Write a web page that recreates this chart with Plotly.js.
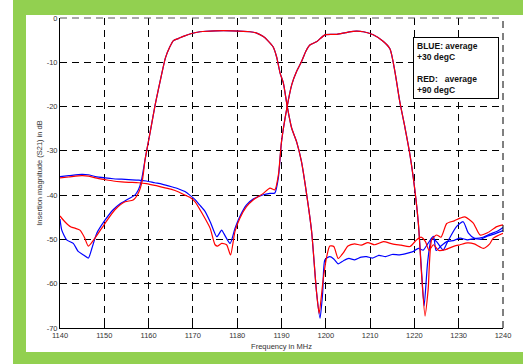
<!DOCTYPE html>
<html>
<head>
<meta charset="utf-8">
<script src="https://cdn.plot.ly/plotly-3.0.1.min.js"></script>
<style>html,body{margin:0;padding:0;background:#fff;}#chart{width:523px;height:364px;}</style>
</head>
<body>
<div id="chart"></div>
<script>
// Filter 1 (lower band), +30 degC (blue)
const f1BlueFreq = [1140, 1140.4, 1141.5, 1143, 1144.1, 1145.3, 1146.4, 1147.2, 1148.3, 1150.2, 1152, 1153.5, 1155, 1156.9, 1157.7, 1158.4, 1159.2, 1159.6, 1160.5, 1161.5, 1162.9, 1163.8, 1164.8, 1165.6, 1166.8, 1168, 1169.7, 1171.6, 1175, 1179, 1182.9, 1184.4, 1185.9, 1186.9, 1188.1, 1188.9, 1189.7, 1190.4, 1191.3, 1192.3, 1193.4, 1194.5, 1195.7, 1196.8, 1197.9, 1198.7, 1199.3, 1199.8, 1200.9, 1201.8, 1202.8, 1204, 1205.2, 1206.5, 1208, 1209.2, 1210.5, 1212, 1213.5, 1215, 1216.7, 1218.5, 1219.8, 1220.9, 1222, 1223, 1224.3, 1224.9, 1226, 1227.3, 1229, 1230.3, 1232, 1233.5, 1235, 1236.3, 1238, 1240];
const f1BlueVal  = [-45.4, -47.9, -50.1, -50.9, -52.7, -53.5, -54.2, -52, -48.6, -45.6, -43.3, -42, -41.1, -40, -38.8, -36.6, -32, -29.8, -25, -19.5, -12.9, -9, -6.5, -5.1, -4.6, -4.1, -3.5, -3.1, -2.9, -2.9, -3.1, -3.4, -4.2, -5.1, -6.5, -8.8, -12.5, -14.6, -20, -24.9, -27.9, -32.4, -40, -48.2, -61.8, -67.8, -62, -54.6, -53.9, -54.4, -55.5, -54.8, -54.3, -54.6, -54, -53.9, -54.2, -53.6, -53.9, -53.4, -53.5, -53.1, -52.7, -52, -52.4, -51, -49.3, -52.5, -51.5, -50.5, -50.2, -49.7, -50.1, -49.8, -50, -49.3, -48.8, -48];
// Filter 2 (upper band), +30 degC (blue)
const f2BlueFreq = [1140, 1142, 1144.9, 1146.4, 1148, 1150.2, 1152, 1153.9, 1155.5, 1157.7, 1159.5, 1161.4, 1163, 1165.2, 1166.8, 1168.2, 1169.3, 1170.5, 1171.5, 1172.7, 1173.9, 1175.4, 1176.5, 1177, 1178.4, 1179.5, 1180.6, 1182.1, 1183.6, 1185.9, 1187.4, 1188.5, 1189.3, 1190, 1191.2, 1192.3, 1193.4, 1194.5, 1195.5, 1196.4, 1198, 1199.8, 1202.5, 1204.5, 1206.2, 1208.5, 1210.7, 1213, 1214.5, 1215.6, 1216.7, 1217.9, 1219, 1220.1, 1220.9, 1221.6, 1222.2, 1223, 1223.9, 1225, 1226.5, 1227.5, 1229.5, 1231, 1232.2, 1233.5, 1235.5, 1237, 1238.6, 1240];
const f2BlueVal  = [-35.8, -35.6, -35.3, -35.4, -35.8, -36.1, -36.3, -36.4, -36.5, -36.6, -36.8, -37.2, -37.5, -38.1, -38.6, -39.2, -40, -41, -42.2, -43.6, -46, -49.4, -47.9, -48.7, -50.9, -47.5, -44.8, -42.2, -40.9, -39.9, -39.6, -39.5, -36, -28, -20.4, -15.1, -12.1, -9.9, -7.5, -6.1, -5.3, -3.8, -3.7, -3.3, -3.0, -3.1, -3.8, -5.3, -7, -12.1, -18.9, -24.9, -30.9, -38.8, -46.4, -57, -65, -55, -49.7, -50.5, -52.4, -50.5, -47.1, -46, -48.6, -49.7, -49.5, -48.8, -48.2, -47.3];
// Filter 1 (lower band), +90 degC (red)
const f1RedFreq = [1140, 1141.1, 1142.5, 1143.5, 1144.5, 1145.5, 1146.4, 1147.9, 1150.2, 1152.4, 1154.7, 1156.5, 1157.7, 1158.6, 1159.2, 1159.6, 1160.5, 1161.5, 1162.9, 1163.8, 1164.8, 1165.6, 1166.8, 1168, 1169.7, 1171.6, 1175, 1179, 1182.9, 1184.4, 1185.9, 1186.9, 1188.1, 1188.9, 1189.7, 1190.4, 1191.3, 1192.3, 1193.4, 1194.5, 1195.7, 1196.8, 1197.9, 1198.5, 1199.4, 1200.2, 1200.9, 1201.8, 1202.8, 1203.9, 1205, 1206.5, 1208, 1209.5, 1211, 1213, 1215, 1217, 1219, 1220.5, 1221.5, 1222.5, 1223.3, 1224.3, 1225.5, 1227, 1229, 1230.3, 1232, 1233.5, 1235.6, 1237, 1237.8, 1240];
const f1RedVal  = [-44.7, -46, -47.2, -47.5, -47.9, -49.5, -51.5, -49.7, -46.3, -43.3, -41.5, -41.1, -39.5, -36.6, -32, -29.8, -25, -19.5, -12.9, -9, -6.5, -5.1, -4.6, -4.1, -3.5, -3.1, -2.9, -2.9, -3.1, -3.4, -4.2, -5.1, -6.5, -8.8, -12.5, -14.6, -20, -24.9, -27.9, -32.4, -40, -48.2, -61.8, -66.7, -59.1, -53.9, -51.5, -51.6, -54.3, -53.1, -51.5, -51, -51.3, -50.7, -51.2, -50.5, -51, -51.3, -51.6, -50.1, -49.5, -50.5, -52.5, -51.2, -52.5, -52.3, -51.5, -51.2, -50.8, -51, -52, -51, -49.7, -48.6];
// Filter 2 (upper band), +90 degC (red)
const f2RedFreq = [1140, 1142, 1144.9, 1146.4, 1148, 1150.2, 1152, 1153.9, 1155.5, 1157.7, 1159.5, 1161.4, 1163, 1165.2, 1166.8, 1168.2, 1169.3, 1170.5, 1172.3, 1173.9, 1175, 1175.6, 1176.5, 1177.6, 1178.5, 1179.5, 1180.6, 1182.1, 1183.6, 1185.9, 1187.4, 1188.5, 1189.3, 1190, 1191.2, 1192.3, 1193.4, 1194.5, 1195.5, 1196.4, 1198, 1199.8, 1202.5, 1204.5, 1206.2, 1208.5, 1210.7, 1213, 1214.5, 1215.6, 1216.7, 1217.9, 1219, 1220.1, 1220.9, 1221.6, 1222.4, 1223.1, 1223.9, 1225, 1226, 1227.3, 1229, 1230.3, 1231.4, 1233.3, 1234.8, 1236.5, 1238.6, 1240];
const f2RedVal  = [-36.1, -35.9, -35.6, -35.7, -36.1, -36.5, -36.8, -37, -37.1, -37.2, -37.4, -37.8, -38.2, -38.7, -39.3, -40, -40.5, -41.5, -44.5, -47.5, -51.2, -51.5, -50.9, -51.2, -53.5, -48.2, -45.2, -42.6, -41.1, -39.6, -38.4, -38.8, -35.4, -27.9, -20.4, -15.1, -12.1, -9.9, -7.5, -6.1, -5.3, -3.8, -3.7, -3.3, -3.0, -3.1, -3.8, -5.3, -7, -12.1, -18.9, -24.9, -30.9, -38.8, -46.4, -57.6, -67.3, -61.4, -50.1, -49, -49.5, -46.4, -45.8, -45.2, -44.9, -46.3, -49, -48.5, -47.1, -46.7];

const xTicks = [1140, 1150, 1160, 1170, 1180, 1190, 1200, 1210, 1220, 1230, 1240];
const yTicks = [0, -10, -20, -30, -40, -50, -60, -70];
const legendLines = ["BLUE: average", "+30 degC", "", "RED:   average", "+90 degC"];

const BLUE = '#0000ff', RED = '#ff0000';
const traces = [
  {x: f1BlueFreq, y: f1BlueVal, mode: 'lines', line: {color: BLUE, width: 1.2, shape: 'spline', smoothing: 0.6}},
  {x: f2BlueFreq, y: f2BlueVal, mode: 'lines', line: {color: BLUE, width: 1.2, shape: 'spline', smoothing: 0.6}},
  {x: f1RedFreq, y: f1RedVal, mode: 'lines', line: {color: RED, width: 1.2, shape: 'spline', smoothing: 0.6}},
  {x: f2RedFreq, y: f2RedVal, mode: 'lines', line: {color: RED, width: 1.2, shape: 'spline', smoothing: 0.6}}
];

// paper coordinate helpers (plot area: px 60..503, py 18..328)
const px = v => (v - 60) / 443;
const py = v => (328 - v) / 310;

const layout = {
  width: 523, height: 364,
  margin: {l: 60, r: 20, t: 18, b: 36},
  paper_bgcolor: '#ffffff', plot_bgcolor: '#ffffff',
  showlegend: false,
  font: {family: 'Liberation Sans, Arial, sans-serif', color: '#222'},
  xaxis: {
    range: [1140, 1240], tickvals: xTicks, ticktext: xTicks.map(String),
    ticks: 'inside', ticklen: 5, tickcolor: '#000', showline: true, linecolor: '#000', linewidth: 1,
    showgrid: true, gridcolor: '#000', gridwidth: 1, griddash: '7px,5px', zeroline: false,
    tickfont: {size: 7.5, color: '#333'},
    title: {text: 'Frequency in MHz', font: {size: 7.5, color: '#333'}, standoff: 4}
  },
  yaxis: {
    range: [-70, 0], tickvals: yTicks, ticktext: yTicks.map(String),
    ticks: 'inside', ticklen: 5, tickcolor: '#000', showline: true, linecolor: '#000', linewidth: 1,
    showgrid: true, gridcolor: '#000', gridwidth: 1, griddash: '7px,5px', zeroline: false,
    tickfont: {size: 7.5, color: '#333'},
    title: {text: 'Insertion magnitude (S21) in dB', font: {size: 7.5, color: '#333'}, standoff: 3}
  },
  shapes: [
    {type: 'rect', xref: 'paper', yref: 'paper', x0: px(13), x1: px(524), y0: py(364), y1: py(-1), fillcolor: '#92d050', line: {width: 0}, layer: 'below'},
    {type: 'rect', xref: 'paper', yref: 'paper', x0: px(26), x1: px(524), y0: py(352), y1: py(15), fillcolor: '#ffffff', line: {width: 0}, layer: 'below'},
    {type: 'line', xref: 'paper', yref: 'paper', x0: 0, x1: 1, y0: 1, y1: 1, line: {color: '#555', width: 1, dash: '7px,5px'}},
    {type: 'line', xref: 'paper', yref: 'paper', x0: 1, x1: 1, y0: 0, y1: 1, line: {color: '#000', width: 1, dash: '7px,5px'}}
  ],
  annotations: [
    {xref: 'paper', yref: 'paper', x: px(413), y: py(37), xanchor: 'left', yanchor: 'top', showarrow: false, align: 'left',
     text: legendLines.map(s => s === '' ? ' ' : '<b>' + s + '</b>').join('<br>'),
     font: {size: 8.5, color: '#111', family: 'Liberation Sans, Arial, sans-serif'},
     bgcolor: '#ffffff', bordercolor: '#000', borderwidth: 1, borderpad: 3, width: 78}
  ]
};

Plotly.newPlot('chart', traces, layout, {staticPlot: true, displayModeBar: false});
</script>
</body>
</html>
